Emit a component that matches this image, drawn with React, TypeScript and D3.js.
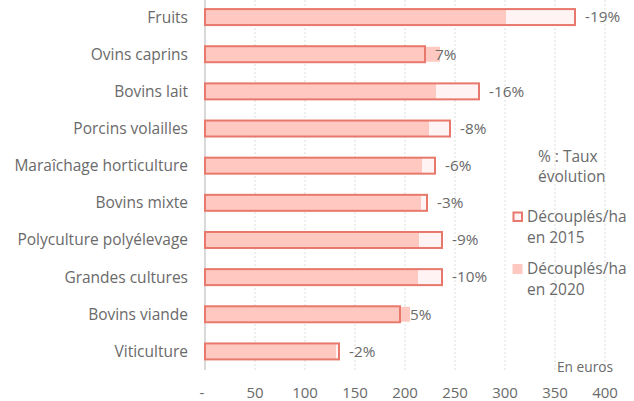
import React from "react";
import * as d3 from "d3";

const categories = [
  "Fruits",
  "Ovins caprins",
  "Bovins lait",
  "Porcins volailles",
  "Maraîchage horticulture",
  "Bovins mixte",
  "Polyculture polyélevage",
  "Grandes cultures",
  "Bovins viande",
  "Viticulture",
];
const values2015 = [370, 220, 274, 245, 230, 222, 237, 237, 195, 134];
const values2020 = [301, 235, 231, 224, 217, 216, 214, 213, 205, 131];
const evolutionLabels = ["-19%", "7%", "-16%", "-8%", "-6%", "-3%", "-9%", "-10%", "5%", "-2%"];
const xTicks = [0, 50, 100, 150, 200, 250, 300, 350, 400];
const xTickLabels = ["-", "50", "100", "150", "200", "250", "300", "350", "400"];
const legendLabels = [["Découplés/ha", "en 2015"], ["Découplés/ha", "en 2020"]];
const noteLines = ["% : Taux", "évolution"];
const unitLabel = "En euros";

const W = 634;
const H = 401;
const FONT = "'Open Sans', sans-serif";
const TEXT = "#6a6a6a";
const STROKE = "#e8786b";
const FILL15 = "#fff4f3";
const FILL20 = "#ffc9c2";

export default function App() {
  const x = d3.scaleLinear().domain([0, 400]).range([205, 605]);
  const y = d3
    .scaleBand<string>()
    .domain(categories)
    .range([-1.5, 370])
    .paddingInner(0.57)
    .paddingOuter(0.285);
  const bh = y.bandwidth();

  return (
    <svg
      width={W}
      height={H}
      style={{ position: "absolute", left: 0, top: 0, fontFamily: FONT }}
    >
      <rect width={W} height={H} fill="#fff" />
      {xTicks.slice(1).map((t) => (
        <line
          key={"g" + t}
          x1={x(t)}
          x2={x(t)}
          y1={0}
          y2={370}
          stroke="#dcdcdc"
          strokeWidth={1}
          strokeDasharray="2,2"
        />
      ))}
      <line x1={x(0)} x2={x(0)} y1={0} y2={370} stroke="#d9d9d9" strokeWidth={2} />
      {categories.map((c, i) => {
        const yy = y(c)!;
        const v15 = values2015[i];
        const v20 = values2020[i];
        return (
          <g key={c}>
            <rect x={x(0)} y={yy} width={x(v15) - x(0)} height={bh} fill={FILL15} />
            <rect x={x(0)} y={yy + 0.5} width={x(v20) - x(0)} height={bh - 1} fill={FILL20} />
            <rect
              x={x(0)}
              y={yy}
              width={x(v15) - x(0)}
              height={bh}
              fill="none"
              stroke={STROKE}
              strokeWidth={2}
            />
            <text
              x={188}
              y={yy + bh / 2}
              dy="0.35em"
              textAnchor="end"
              fontSize={15.5}
              fill={TEXT}
            >
              {c}
            </text>
            <text
              x={x(v15) + 10}
              y={yy + bh / 2}
              dy="0.35em"
              fontSize={15.3}
              fill={TEXT}
            >
              {evolutionLabels[i]}
            </text>
          </g>
        );
      })}
      {xTicks.map((t, i) => (
        <text
          key={"t" + t}
          x={i === 0 ? x(t) - 3 : x(t)}
          y={393}
          dy="0.35em"
          textAnchor="middle"
          fontSize={15}
          fill={TEXT}
        >
          {xTickLabels[i]}
        </text>
      ))}
      {noteLines.map((l, i) => (
        <text key={l} x={538} y={157 + i * 20} dy="0.35em" fontSize={15.5} fill={TEXT}>
          {l}
        </text>
      ))}
      <rect x={513.5} y={212.5} width={8.5} height={8.5} fill={FILL15} stroke={STROKE} strokeWidth={2} />
      <rect x={512.5} y={264} width={10} height={10} fill={FILL20} />
      {legendLabels.map((ls, k) =>
        ls.map((l, j) => (
          <text
            key={k + "-" + j}
            x={527}
            y={217 + k * 52 + j * 21}
            dy="0.35em"
            fontSize={15.5}
            fill={TEXT}
          >
            {l}
          </text>
        ))
      )}
      <text x={557} y={367} dy="0.35em" fontSize={13.7} fill={TEXT}>
        {unitLabel}
      </text>
    </svg>
  );
}
